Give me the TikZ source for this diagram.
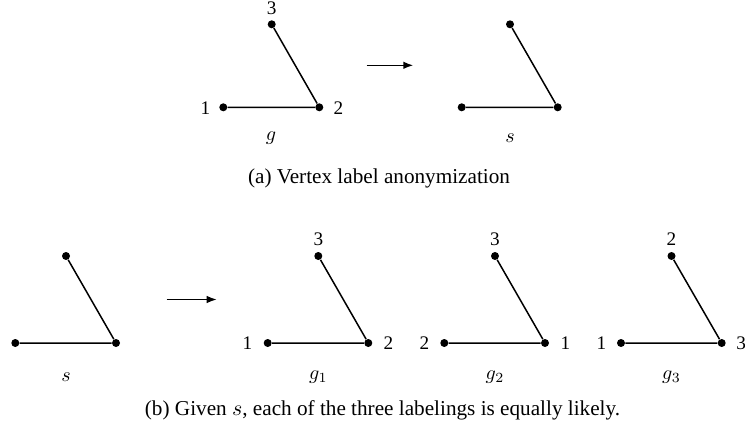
\documentclass[tikz,border=0pt]{standalone}
\usepackage{fontspec}
\setmainfont{Liberation Serif}
\usetikzlibrary{arrows.meta}
\begin{document}
\begin{tikzpicture}[x=0.5pt,y=-0.5pt,
  vtx/.style={circle,fill=black,inner sep=0pt,minimum size=4pt},
  edge/.style={line width=0.75pt},
  lbl/.style={font=\fontsize{9.6}{11}\selectfont,inner sep=0pt},
  captext/.style={font=\fontsize{10.6}{12}\selectfont,inner sep=0pt},
  arr/.style={line width=0.75pt,-{Latex[length=5pt,width=3.8pt]}}]
\useasboundingbox (0,0) rectangle (745,433);
% (a) g
\node[vtx] (gT) at (271.7,24.3) {};
\node[vtx] (gL) at (223.3,107.3) {};
\node[vtx] (gR) at (319.3,107.3) {};
\draw[edge] (gT) -- (gR) -- (gL);
\node[lbl] (gt) at (271.7,8.3) {3};
\node[lbl] (gl) at (205.5,107.7) {1};
\node[lbl] (gr) at (338.5,107.7) {2};
\node[lbl] (gname) at (271,138) {$g$};
% arrow a
\coordinate (a1) at (366.7,65.3);
\coordinate (a2) at (413.3,65.3);
\draw[arr] (a1) -- (a2);
% (a) s
\node[vtx] (sT) at (510,24.3) {};
\node[vtx] (sL) at (461.7,107.3) {};
\node[vtx] (sR) at (557.7,107.3) {};
\draw[edge] (sT) -- (sR) -- (sL);
\node[lbl] (sname) at (510,138) {$s$};
\node[captext] (capa) at (379,178) {(a) Vertex label anonymization};
% (b) s
\node[vtx] (bT) at (66,256) {};
\node[vtx] (bL) at (15.3,343) {};
\node[vtx] (bR) at (116,343) {};
\draw[edge] (bT) -- (bR) -- (bL);
\node[lbl] (bname) at (66,377) {$s$};
% arrow b
\coordinate (b1) at (166.7,299.5);
\coordinate (b2) at (216.7,299.5);
\draw[arr] (b1) -- (b2);
% g1
\node[vtx] (aT) at (318.3,256) {};
\node[vtx] (aL) at (267.7,343) {};
\node[vtx] (aR) at (368.3,343) {};
\draw[edge] (aT) -- (aR) -- (aL);
\node[lbl] (at) at (318.3,239) {3};
\node[lbl] (al) at (247.5,343.5) {1};
\node[lbl] (ar) at (388.5,343.5) {2};
\node[lbl] (aname) at (318.3,377) {$g_1$};
% g2
\node[vtx] (cT) at (495,256) {};
\node[vtx] (cL) at (444.3,343) {};
\node[vtx] (cR) at (545,343) {};
\draw[edge] (cT) -- (cR) -- (cL);
\node[lbl] (ct) at (495,239) {3};
\node[lbl] (cl) at (424.5,343.5) {2};
\node[lbl] (cr) at (565.5,343.5) {1};
\node[lbl] (cname) at (495,377) {$g_2$};
% g3
\node[vtx] (dT) at (671.5,256) {};
\node[vtx] (dL) at (621,343) {};
\node[vtx] (dR) at (721.7,343) {};
\draw[edge] (dT) -- (dR) -- (dL);
\node[lbl] (dt) at (671.5,239) {2};
\node[lbl] (dl) at (601.5,343.5) {1};
\node[lbl] (dr) at (741.2,343.5) {3};
\node[lbl] (dname) at (671.5,377) {$g_3$};
\node[captext] (capb) at (382.5,410) {(b) Given $s$, each of the three labelings is equally likely.};
\end{tikzpicture}
\end{document}
